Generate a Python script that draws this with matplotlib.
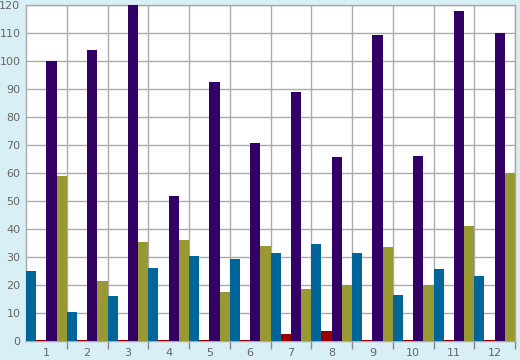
import matplotlib
matplotlib.use("Agg")
import matplotlib.pyplot as plt
import numpy as np

categories = ["1", "2", "3", "4", "5", "6", "7", "8", "9", "10", "11", "12"]
blue_vals = [25, 10.4, 16.1, 26.1, 30.4, 29.3, 31.4, 34.5, 31.6, 16.3, 25.6, 23.1]
red_vals = [0.3, 0.3, 0.3, 0.3, 0.3, 0.3, 2.4, 3.5, 0.3, 0.3, 0.3, 0.3]
purple_vals = [100, 103.9, 120.2, 51.8, 92.6, 70.8, 88.9, 65.7, 109.4, 66.1, 118, 110.1]
olive_vals = [59, 21.4, 35.4, 35.9, 17.5, 33.9, 18.4, 19.9, 33.4, 19.9, 41.2, 60]
yticks = [0, 10, 20, 30, 40, 50, 60, 70, 80, 90, 100, 110, 120]

series = [blue_vals, red_vals, purple_vals, olive_vals]
colors = ["#006699", "#990000", "#330066", "#999933"]

bg = "#d9eff6"
fig = plt.figure(figsize=(5.2, 3.6), dpi=100, facecolor=bg)
ax = fig.add_axes([26/520, 19/360, 489/520, 336/360])
ax.set_facecolor("white")

n = len(categories)
x0 = np.arange(n)
w = 0.25
for k, (vals, c) in enumerate(zip(series, colors)):
    ax.bar(x0 + k*w, vals, width=w, align="edge", color=c, zorder=3, linewidth=0)

ax.set_xlim(0, n)
ax.set_ylim(0, 120)
ax.set_yticks(yticks)
ax.set_xticks(np.arange(1, n+1))
ax.set_xticklabels([])
ax.set_xticks(x0 + 0.5, minor=True)
ax.set_xticklabels(categories, minor=True)
ax.tick_params(axis="x", which="major", length=6, color="#888888", width=1, direction="out")
ax.tick_params(axis="x", which="minor", length=0, pad=5, labelsize=8, labelcolor="#666666")
ax.tick_params(axis="y", length=0, pad=4, labelsize=8, labelcolor="#666666")
ax.grid(True, which="major", color="#aaaaaa", linewidth=1, zorder=0)
for s in ax.spines.values():
    s.set_color("#aaaaaa")
    s.set_linewidth(1)

fig.savefig("out.png", dpi=100, facecolor=bg)
